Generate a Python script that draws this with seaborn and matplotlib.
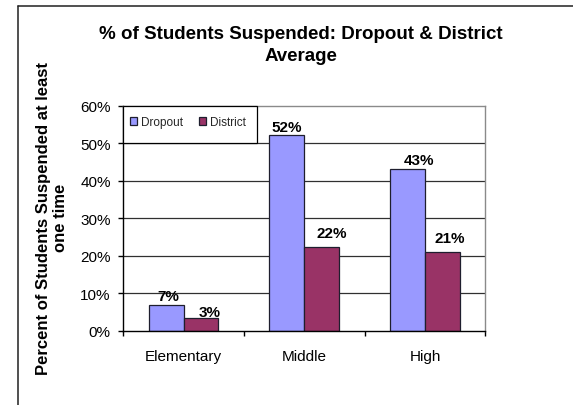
import matplotlib
matplotlib.use("Agg")
import matplotlib.pyplot as plt
import matplotlib.patches as mpatches
from matplotlib.lines import Line2D
from matplotlib.ticker import FixedLocator, PercentFormatter
import seaborn as sns
import pandas as pd

# Data
school_levels = ["Elementary", "Middle", "High"]
dropout_rate = [0.068, 0.522, 0.432]
district_rate = [0.033, 0.223, 0.209]
series_names = ["Dropout", "District"]
y_ticks = [0.0, 0.1, 0.2, 0.3, 0.4, 0.5, 0.6]

# Label nudges (points) for the value labels, per series and level
dropout_label_offsets = [(1.5, 3.6), (0.0, 2.9), (8.3, 3.6)]
district_label_offsets = [(6.2, 1.4), (7.2, 7.2), (5.4, 7.2)]

df = pd.DataFrame({
    "level": school_levels * 2,
    "series": [series_names[0]] * 3 + [series_names[1]] * 3,
    "rate": dropout_rate + district_rate,
})

sns.set_theme(style="white")
plt.rcParams["font.family"] = ["Liberation Sans", "DejaVu Sans"]

W, H = 573, 406
fig = plt.figure(figsize=(W / 100, H / 100), dpi=100)
fig.patch.set_facecolor("white")

# Outer chart frame: left and top edges
frame_x = 17.5 / W
frame_y = 1 - 6.7 / H
fig.add_artist(Line2D([frame_x, frame_x], [0, frame_y], transform=fig.transFigure,
                      color="#202020", linewidth=1.1))
fig.add_artist(Line2D([frame_x, 1], [frame_y, frame_y], transform=fig.transFigure,
                      color="#202020", linewidth=1.1))

ax_left, ax_right, ax_top, ax_bottom = 123.3, 485.3, 106.7, 331.5
ax = fig.add_axes([ax_left / W, 1 - ax_bottom / H, (ax_right - ax_left) / W,
                   (ax_bottom - ax_top) / H])

palette = {"Dropout": "#9999FF", "District": "#993366"}
sns.barplot(data=df, x="level", y="rate", hue="series", order=school_levels,
            hue_order=series_names, palette=palette, width=0.577,
            edgecolor="#1e1e2e", linewidth=0.9, errorbar=None, ax=ax,
            saturation=1.0)

ax.set_ylim(0, 0.6)
ax.set_xlim(-0.5, 2.5)
ax.yaxis.set_major_locator(FixedLocator(y_ticks))
ax.yaxis.set_major_formatter(PercentFormatter(1.0, decimals=0))
ax.set_xlabel("")
ax.set_ylabel("")

# Horizontal gridlines
for t in y_ticks[1:-1]:
    ax.axhline(t, color="#303030", linewidth=0.9, zorder=0)
ax.set_axisbelow(True)

for side in ["left", "bottom"]:
    ax.spines[side].set_color("black")
    ax.spines[side].set_linewidth(1.0)
for side in ["top", "right"]:
    ax.spines[side].set_visible(True)
    ax.spines[side].set_color("#8a8a8a")
    ax.spines[side].set_linewidth(1.0)

ax.tick_params(axis="y", which="major", direction="out", length=3.6, width=1.0,
               color="black", labelsize=11, pad=5.5, left=True, labelcolor="black")
ax.tick_params(axis="x", which="major", length=0, labelsize=11, pad=13.5,
               labelcolor="black")
ax.xaxis.set_minor_locator(FixedLocator([-0.5, 0.5, 1.5, 2.5]))
ax.tick_params(axis="x", which="minor", direction="out", length=3.6, width=1.0,
               color="black", bottom=True)

# Value labels above the bars
for i, value in enumerate(dropout_rate):
    ax.annotate(f"{value:.0%}", xy=(i - 0.577 / 4, value), xycoords="data",
                xytext=dropout_label_offsets[i], textcoords="offset points",
                ha="center", va="baseline", fontsize=11, fontweight="bold",
                color="black")
for i, value in enumerate(district_rate):
    ax.annotate(f"{value:.0%}", xy=(i + 0.577 / 4, value), xycoords="data",
                xytext=district_label_offsets[i], textcoords="offset points",
                ha="center", va="baseline", fontsize=11, fontweight="bold",
                color="black")

# Legend box with its entries
plot_w = ax_right - ax_left
plot_h = ax_bottom - ax_top
box_right, box_bottom = 257.0, 144.0
legend_box = mpatches.Rectangle((0, (ax_bottom - box_bottom) / plot_h),
                                (box_right - ax_left) / plot_w,
                                (box_bottom - ax_top) / plot_h,
                                transform=ax.transAxes, facecolor="white",
                                edgecolor="black", linewidth=0.9, zorder=5,
                                clip_on=False)
ax.add_patch(legend_box)

handles, labels = ax.get_legend_handles_labels()
leg = ax.legend(handles, labels, loc="center left",
                bbox_to_anchor=((129.5 - ax_left) / plot_w, (ax_bottom - 123.3) / plot_h),
                ncol=2, frameon=False, fontsize=8.5, borderaxespad=0,
                borderpad=0, handlelength=0.6, handleheight=0.6,
                handletextpad=0.35, columnspacing=1.38)
leg.set_zorder(6)

# Title and axis title
fig.text(300.8 / W, 1 - 45.3 / H, "% of Students Suspended: Dropout & District\nAverage",
         ha="center", va="center", multialignment="center", fontsize=13.5,
         fontweight="bold", linespacing=1.38, color="black")
fig.text(52 / W, 1 - 218.3 / H, "Percent of Students Suspended at least\none time",
         ha="center", va="center", multialignment="center", rotation=90,
         fontsize=12, fontweight="bold", linespacing=1.2, color="black")

fig.savefig("out.png", dpi=100, facecolor="white")
